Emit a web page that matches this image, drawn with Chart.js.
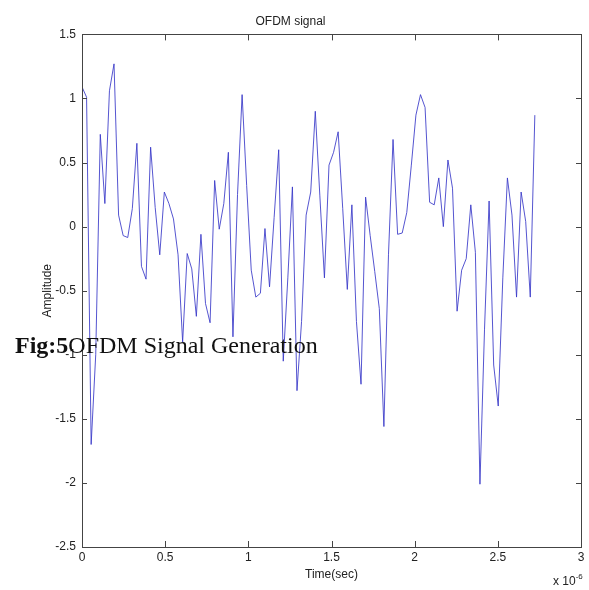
<!DOCTYPE html>
<html>
<head>
<meta charset="utf-8">
<title>OFDM signal</title>
<script src="https://cdn.jsdelivr.net/npm/chart.js@4.4.1/dist/chart.umd.min.js"></script>
<style>
  body { margin: 0; background: #fff; }
  #wrap { position: relative; width: 589px; height: 590px; }
  #caption {
    position: absolute; left: 15px; top: 332px;
    font-family: "Liberation Serif", "Times New Roman", serif;
    font-size: 24px; color: #111; white-space: nowrap;
  }
  #expo {
    position: absolute; left: 553px; top: 573px;
    font-family: "Liberation Sans", Arial, sans-serif;
    font-size: 12px; color: #222; white-space: nowrap;
  }
  #expo sup { font-size: 8px; position: relative; top: -1px; }
</style>
</head>
<body>
<div id="wrap">
  <canvas id="signalChart" width="589" height="590"></canvas>
  <div id="caption"><b>Fig:5</b>OFDM Signal Generation</div>
  <div id="expo">x 10<sup>-6</sup></div>
</div>
<script>
const amplitude = [
  1.09, 1.01, -1.70, -1.00, 0.72, 0.18, 1.06, 1.27, 0.09, -0.07,
  -0.085, 0.14, 0.65, -0.31, -0.41, 0.62, 0.15, -0.22, 0.27, 0.18,
  0.06, -0.22, -0.90, -0.21, -0.33, -0.70, -0.06, -0.60, -0.75, 0.36,
  -0.02, 0.18, 0.58, -0.86, 0.25, 1.03, 0.32, -0.34, -0.55, -0.52,
  -0.015, -0.47, 0.07, 0.60, -1.05, -0.40, 0.31, -1.28, -0.74, 0.09,
  0.27, 0.90, 0.24, -0.40, 0.48, 0.58, 0.74, 0.14, -0.49, 0.17,
  -0.74, -1.23, 0.23, -0.07, -0.35, -0.64, -1.56, -0.22, 0.68, -0.06,
  -0.05, 0.11, 0.48, 0.87, 1.03, 0.93, 0.19, 0.17, 0.38, 0.00,
  0.52, 0.30, -0.66, -0.34, -0.25, 0.17, -0.20, -2.01, -0.80, 0.20,
  -1.08, -1.40, -0.40, 0.38, 0.09, -0.55, 0.27, 0.04, -0.55, 0.87
];
const sampleTime = 0.0275; // x 1e-6 sec
const xTicks = [0, 0.5, 1, 1.5, 2, 2.5, 3];
const yTicks = [-2.5, -2, -1.5, -1, -0.5, 0, 0.5, 1, 1.5];

const points = amplitude.map((v, i) => ({ x: i * sampleTime, y: v }));

// matlab style box with inward ticks
const boxPlugin = {
  id: 'box',
  afterDraw(chart) {
    const ctx = chart.ctx;
    const a = chart.chartArea;
    const xs = chart.scales.x, ys = chart.scales.y;
    ctx.save();
    ctx.strokeStyle = '#444';
    ctx.lineWidth = 1;
    ctx.strokeRect(Math.round(a.left) + 0.5, Math.round(a.top) + 0.5,
      Math.round(a.right - a.left), Math.round(a.bottom - a.top));
    ctx.beginPath();
    xTicks.forEach(t => {
      const px = Math.round(xs.getPixelForValue(t)) + 0.5;
      ctx.moveTo(px, a.bottom); ctx.lineTo(px, a.bottom - 6);
      ctx.moveTo(px, a.top); ctx.lineTo(px, a.top + 6);
    });
    yTicks.forEach(t => {
      const py = Math.round(ys.getPixelForValue(t)) + 0.5;
      ctx.moveTo(a.left, py); ctx.lineTo(a.left + 5, py);
      ctx.moveTo(a.right, py); ctx.lineTo(a.right - 5, py);
    });
    ctx.stroke();
    ctx.restore();
  }
};

const tickFont = { family: '"Liberation Sans", Arial, sans-serif', size: 12, weight: 'normal' };

new Chart(document.getElementById('signalChart'), {
  type: 'line',
  data: {
    datasets: [{
      data: points,
      borderColor: 'rgba(55,55,200,0.85)',
      borderWidth: 1,
      pointRadius: 0,
      tension: 0,
      fill: false
    }]
  },
  options: {
    responsive: false,
    animation: false,
    devicePixelRatio: 1,
    layout: { padding: { left: 0, right: 8, top: 0, bottom: 0 } },
    plugins: {
      legend: { display: false },
      tooltip: { enabled: false },
      title: {
        display: true,
        text: 'OFDM signal',
        color: '#222',
        font: tickFont,
        padding: { top: 14, bottom: 6 }
      }
    },
    scales: {
      x: {
        type: 'linear',
        min: 0, max: 3,
        afterFit: s => { s.height = 43; },
        afterBuildTicks: s => { s.ticks = xTicks.map(v => ({ value: v })); },
        grid: { display: false, drawTicks: false },
        border: { display: false },
        ticks: { color: '#222', font: tickFont, padding: 3, maxRotation: 0,
          callback: v => String(v) },
        title: { display: true, text: 'Time(sec)', color: '#222', font: tickFont,
          padding: { top: 0, bottom: 8 } }
      },
      y: {
        min: -2.5, max: 1.5,
        afterFit: s => { s.width = 82; },
        afterBuildTicks: s => { s.ticks = yTicks.map(v => ({ value: v })); },
        grid: { display: false, drawTicks: false },
        border: { display: false },
        ticks: { color: '#222', font: tickFont, padding: 6,
          callback: v => String(v) },
        title: { display: true, text: 'Amplitude', color: '#222', font: tickFont,
          padding: { top: 40, bottom: 0 } }
      }
    }
  },
  plugins: [boxPlugin]
});
</script>
</body>
</html>
